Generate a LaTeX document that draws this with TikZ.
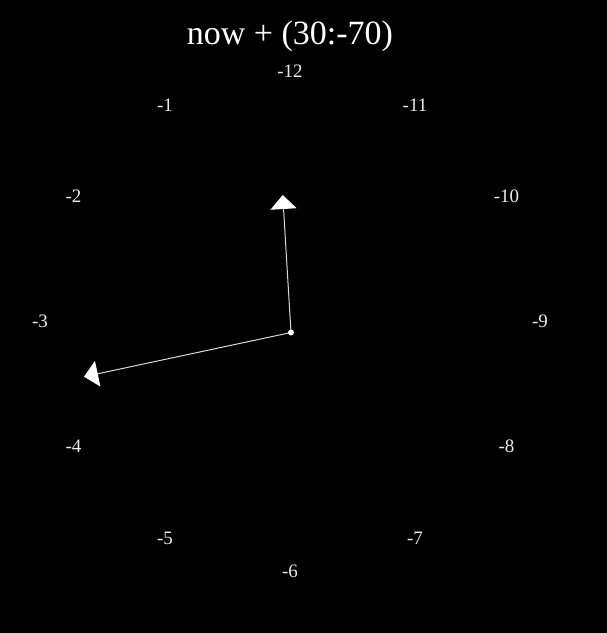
\documentclass[tikz,border=0pt]{standalone}
\usepackage{fontspec}
\setmainfont{Liberation Serif}
\usetikzlibrary{arrows.meta}
\begin{document}
\begin{tikzpicture}[x=1pt,y=-1pt,
  lbl/.style={text=white!92!black,font=\fontsize{19}{19}\selectfont,inner sep=0pt,anchor=center},
  hand/.style={draw=white!85!black,line width=1pt,-{Triangle[width=26pt,length=14pt,color=white,fill=white]}}]
\fill[black] (0,0) rectangle (607,633);
\useasboundingbox (0,0) rectangle (607,633);
\node[text=white,font=\fontsize{34}{34}\selectfont,inner sep=0pt] (title) at (290,36) {now + (30:-70)};
\foreach \i in {1,...,12} {
  \node[lbl] (l\i) at ({290-250*sin(30*\i)},{321.5-250*cos(30*\i)}) {-\i};
}
\coordinate (c) at (291,332.5);
\coordinate (ta) at (282.7,195);
\coordinate (tb) at (84,376.7);
\draw[hand] (c) -- (ta);
\draw[hand] (c) -- (tb);
\fill[white] (c) circle (3pt);
\end{tikzpicture}
\end{document}
